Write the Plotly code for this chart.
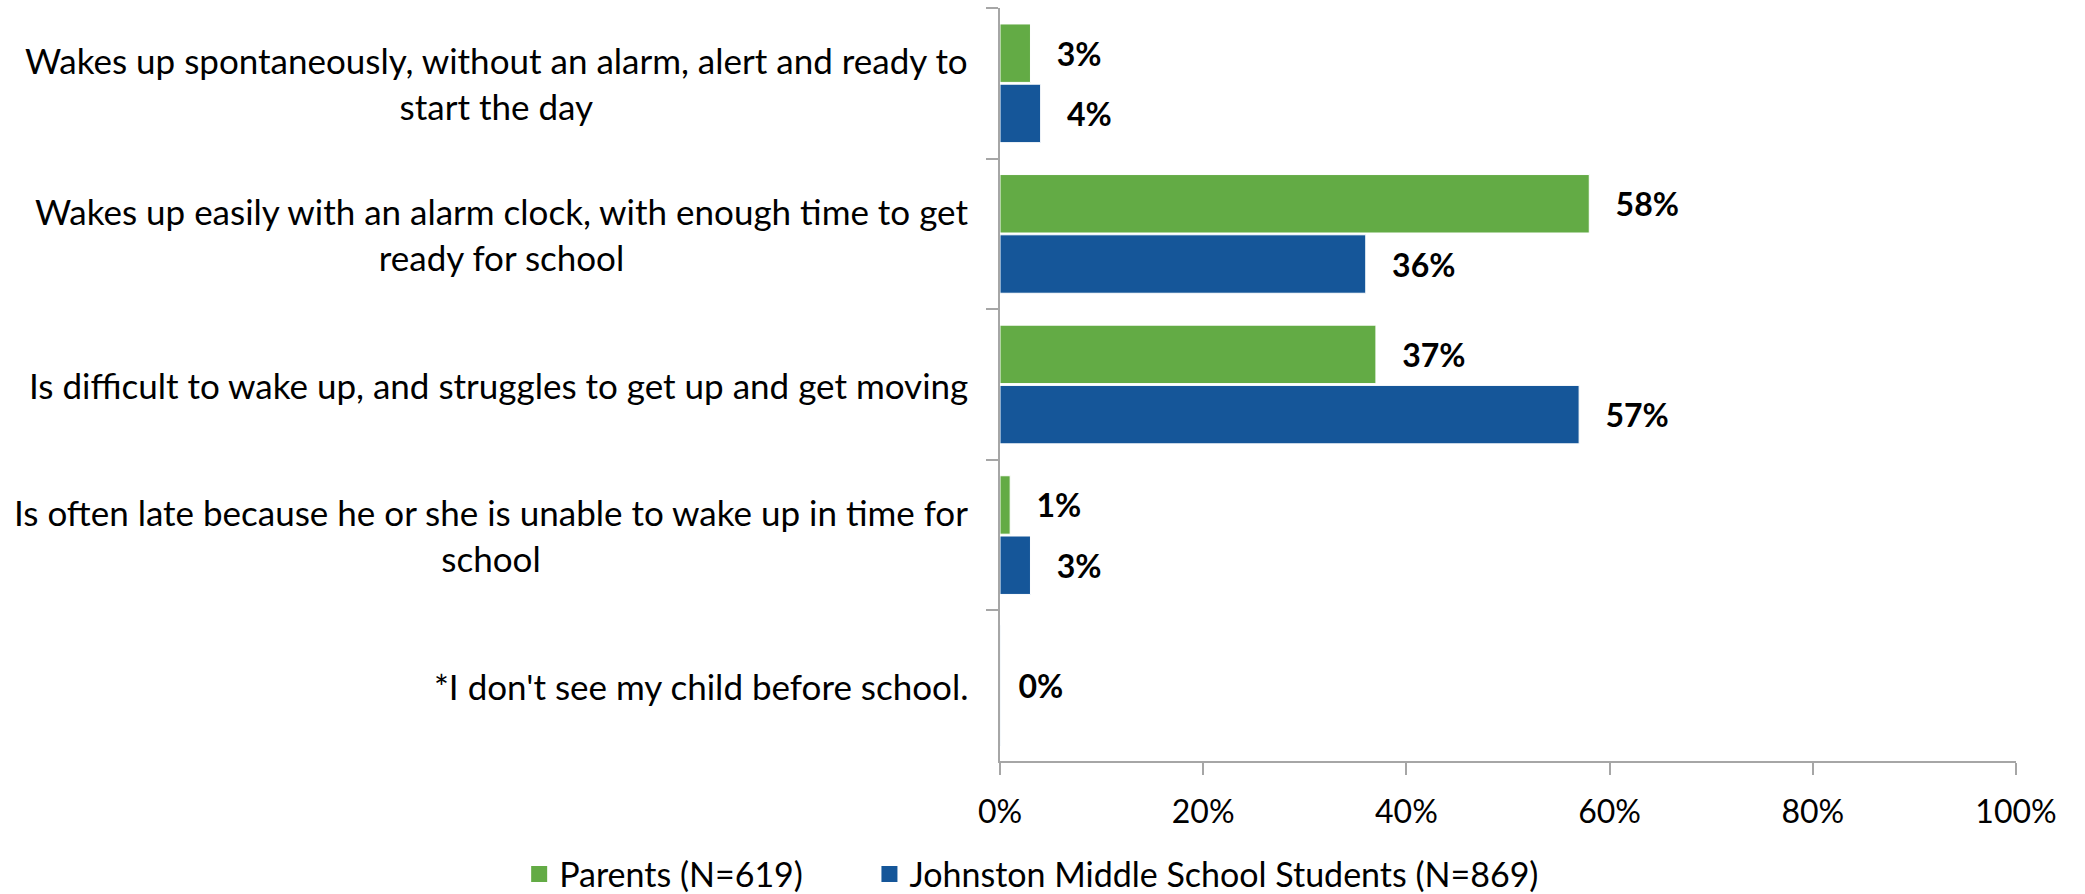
import plotly.graph_objects as go

# Survey responses: how the student usually wakes up on a school day
categories = [
    "Wakes up spontaneously, without an alarm, alert and ready to<br>start the day",
    "Wakes up easily with an alarm clock, with enough time to get<br>ready for school",
    "Is difficult to wake up, and struggles to get up and get moving",
    "Is often late because he or she is unable to wake up in time for<br>school",
    "*I don't see my child before school.",
]
parents = [3, 58, 37, 1, None]
students = [4, 36, 57, 3, None]
# parents-only option, shown as a single centred value
parents_only_category = [categories[4]]
parents_only = [0]

x_ticks = [0, 20, 40, 60, 80, 100]
x_tick_labels = ["0%", "20%", "40%", "60%", "80%", "100%"]

GREEN = "#63AB45"
BLUE = "#155699"
AXIS = "#A6A6A6"
FONT = "Lato"
NB = "\u00a0\u00a0\u00a0"

label_font = dict(family=FONT, size=32, color="black", weight="bold")

fig = go.Figure()
fig.add_trace(go.Bar(
    y=categories, x=parents, orientation="h", name="Parents (N=619)",
    marker=dict(color=GREEN, line=dict(color="white", width=1)),
    offsetgroup="p", showlegend=False,
    texttemplate=NB + "%{x:.0f}%", textposition="outside", cliponaxis=False,
    textfont=label_font,
))
fig.add_trace(go.Bar(
    y=categories, x=students, orientation="h",
    name="Johnston Middle School Students (N=869)",
    marker=dict(color=BLUE, line=dict(color="white", width=1)),
    offsetgroup="s", showlegend=False,
    texttemplate=NB + "%{x:.0f}%", textposition="outside", cliponaxis=False,
    textfont=label_font,
))
fig.add_trace(go.Bar(
    y=parents_only_category, x=parents_only, orientation="h",
    marker=dict(color=GREEN), offsetgroup="p", width=0.8, offset=-0.4,
    showlegend=False,
    texttemplate="\u00a0\u00a0%{x:.0f}%", textposition="outside", cliponaxis=False,
    textfont=label_font,
))

# legend entries, one legend box per series
for nm, col, lg in [("Parents (N=619)", GREEN, "legend"),
                    ("Johnston Middle School Students (N=869)", BLUE, "legend2")]:
    fig.add_trace(go.Scatter(
        x=[None], y=[None], mode="markers", name=nm, legend=lg,
        marker=dict(symbol="square", size=16, color=col),
    ))

# category labels, centred multi-line text to the left of the axis
for c in categories:
    fig.add_annotation(
        x=0, xref="paper", y=c, yref="y", text=c, showarrow=False,
        xanchor="right", yanchor="middle", xshift=-30, align="center",
        font=dict(family=FONT, size=35, color="black"),
    )

legend_style = dict(
    orientation="h", xref="container", yref="container",
    xanchor="left", y=0.022, yanchor="middle",
    font=dict(family=FONT, size=34, color="black"),
    itemwidth=30, bgcolor="rgba(0,0,0,0)",
)

fig.update_layout(
    width=2085, height=894,
    margin=dict(l=1000, r=69, t=8, b=133),
    paper_bgcolor="white", plot_bgcolor="white",
    barmode="group", bargap=0.2, bargroupgap=0.03,
    font=dict(family=FONT, size=32, color="black"),
    xaxis=dict(
        range=[0, 100], tickvals=x_ticks, ticktext=x_tick_labels,
        ticks="outside", ticklen=12, tickwidth=2, tickcolor=AXIS,
        showline=True, linecolor=AXIS, linewidth=2,
        showgrid=False, zeroline=False, ticklabelstandoff=10,
        tickfont=dict(family=FONT, size=32, color="black"),
    ),
    yaxis=dict(
        type="category", categoryorder="array", categoryarray=categories,
        range=[4.5, -0.5], tickson="boundaries",
        ticks="outside", ticklen=12, tickwidth=2, tickcolor=AXIS,
        showline=True, linecolor=AXIS, linewidth=2,
        showgrid=False, zeroline=False, showticklabels=False,
    ),
    legend=dict(legend_style, x=0.249),
    legend2=dict(legend_style, x=0.417),
)

fig.write_html("out.html")
